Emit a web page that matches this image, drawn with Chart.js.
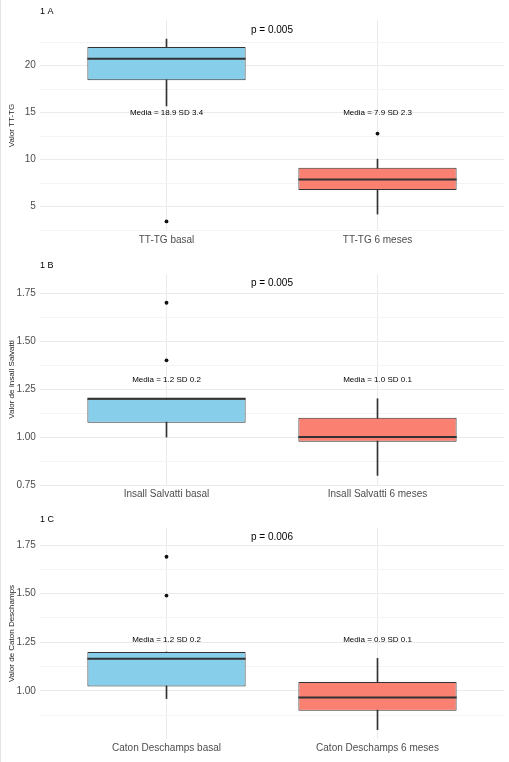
<!DOCTYPE html>
<html>
<head>
<meta charset="utf-8">
<script src="https://cdn.jsdelivr.net/npm/chart.js@4.4.1/dist/chart.umd.min.js"></script>
<style>
  html, body { margin: 0; padding: 0; background: #fff; }
  canvas { display: block; }
  #edge { position: fixed; left: 0; top: 0; width: 1px; height: 762px; background: #e4e4e4; }
</style>
</head>
<body>
<canvas id="chartA" width="509" height="254"></canvas>
<canvas id="chartB" width="509" height="254"></canvas>
<canvas id="chartC" width="509" height="254"></canvas>
<div id="edge"></div>
<script>
// 1 A - TT-TG
const groupsA = ["TT-TG basal", "TT-TG 6 meses"];
const q1A = [18.45, 6.77];
const medianA = [20.74, 7.9];
const q3A = [21.98, 9.14];
const whiskerLowA = [15.72, 4.22];
const whiskerHighA = [22.83, 10.06];
const outliersA = [[0, 3.44], [1, 12.78]];
const statsA = ["Media = 18.9 SD 3.4", "Media = 7.9 SD 2.3"];
const statsYA = 15;
const pValueA = "p = 0.005";
const pYA = 23.72;
const majorTicksA = [5, 10, 15, 20];
const minorTicksA = [2.5, 7.5, 12.5, 17.5, 22.5];

// 1 B - Insall Salvatti
const groupsB = ["Insall Salvatti basal", "Insall Salvatti 6 meses"];
const q1B = [1.075, 0.975];
const medianB = [1.2, 1.0];
const q3B = [1.2, 1.1];
const whiskerLowB = [1.0, 0.8];
const whiskerHighB = [1.2, 1.2];
const outliersB = [[0, 1.7], [0, 1.4]];
const statsB = ["Media = 1.2 SD 0.2", "Media = 1.0 SD 0.1"];
const statsYB = 1.3;
const pValueB = "p = 0.005";
const pYB = 1.8;
const majorTicksB = [0.75, 1.0, 1.25, 1.5, 1.75];
const minorTicksB = [0.875, 1.125, 1.375, 1.625];

// 1 C - Caton Deschamps
const groupsC = ["Caton Deschamps basal", "Caton Deschamps 6 meses"];
const q1C = [1.022, 0.897];
const medianC = [1.165, 0.965];
const q3C = [1.2, 1.046];
const whiskerLowC = [0.96, 0.8];
const whiskerHighC = [1.2, 1.167];
const outliersC = [[0, 1.69], [0, 1.49]];
const statsC = ["Media = 1.2 SD 0.2", "Media = 0.9 SD 0.1"];
const statsYC = 1.263;
const pValueC = "p = 0.006";
const pYC = 1.79;
const majorTicksC = [1.0, 1.25, 1.5, 1.75];
const minorTicksC = [0.875, 1.125, 1.375, 1.625];

const FONT = '"Liberation Sans", Arial, sans-serif';
const FILLS = ["#87CEEB", "#FA8072"];
const LINE = "#333333";
const BOX_WIDTH = 0.75;

Chart.defaults.font.family = FONT;

// texts placed in data coordinates
const notes = {
  id: "notes",
  afterDatasetsDraw(chart, args, opts) {
    const { ctx, chartArea } = chart;
    const x = chart.scales.x, y = chart.scales.y;
    ctx.save();
    ctx.fillStyle = "#000";
    ctx.textAlign = "center";
    ctx.textBaseline = "middle";
    ctx.font = "8px " + FONT;
    opts.stats.forEach((t, i) => ctx.fillText(t, x.getPixelForValue(i + 1), y.getPixelForValue(opts.statsY)));
    ctx.font = "10px " + FONT;
    ctx.fillText(opts.pValue, x.getPixelForValue((1 + opts.stats.length) / 2), y.getPixelForValue(opts.pY));
    ctx.textAlign = "left";
    ctx.font = "9px " + FONT;
    ctx.fillText(opts.tag, chartArea.left, 12);
    ctx.restore();
  }
};

function halfBox(chart) {
  const x = chart.scales.x;
  return x.getPixelForValue(1 + BOX_WIDTH / 2) - x.getPixelForValue(1);
}

function boxPanel(id, p) {
  const at = (arr) => p.groups.map((g, i) => ({ x: i + 1, y: arr[i] }));
  const span = (lo, hi) => p.groups.map((g, i) => ({ x: i + 1, y: [lo[i], hi[i]] }));
  const ticks = p.major.concat(p.minor).sort((a, b) => a - b);

  new Chart(document.getElementById(id), {
    type: "bar",
    data: {
      datasets: [
        {
          label: "whisker",
          data: span(p.lo, p.hi),
          backgroundColor: LINE,
          borderWidth: 0,
          barThickness: 1,
          grouped: false,
          order: 4
        },
        {
          label: "box",
          data: span(p.q1, p.q3),
          backgroundColor: FILLS,
          borderColor: LINE,
          borderWidth: 1,
          borderSkipped: false,
          categoryPercentage: 1,
          barPercentage: BOX_WIDTH,
          grouped: false,
          order: 3
        },
        {
          type: "scatter",
          label: "median",
          data: at(p.median),
          pointStyle: "line",
          pointRadius: (c) => halfBox(c.chart),
          pointBorderColor: LINE,
          pointBorderWidth: 2,
          order: 2
        },
        {
          type: "scatter",
          label: "outliers",
          data: p.outliers.map(o => ({ x: o[0] + 1, y: o[1] })),
          pointRadius: 1.9,
          pointBackgroundColor: "#111",
          pointBorderWidth: 0,
          order: 1
        }
      ]
    },
    options: {
      responsive: false,
      animation: false,
      events: [],
      layout: { padding: { left: 0, right: 4.9, top: 20, bottom: 0 } },
      plugins: {
        legend: { display: false },
        tooltip: { enabled: false },
        notes: { tag: p.tag, stats: p.stats, statsY: p.statsY, pValue: p.pValue, pY: p.pY }
      },
      scales: {
        x: {
          type: "linear",
          min: 0.4,
          max: 2.6,
          offset: false,
          afterBuildTicks: (s) => { s.ticks = p.groups.map((g, i) => ({ value: i + 1 })); },
          afterFit: (s) => { s.height = 23; },
          border: { display: false },
          grid: { offset: false, drawTicks: false, color: "#EBEBEB" },
          ticks: {
            padding: 3,
            color: "#4D4D4D",
            font: { size: 10 },
            maxRotation: 0,
            autoSkip: false,
            callback: (v) => p.groups[v - 1]
          }
        },
        y: {
          min: p.range[0],
          max: p.range[1],
          afterBuildTicks: (s) => { s.ticks = ticks.map(v => ({ value: v })); },
          afterFit: (s) => { s.width = 39.9; },
          border: { display: false },
          grid: {
            drawTicks: false,
            color: (c) => p.major.includes(c.tick.value) ? "#EBEBEB" : "#F4F4F4"
          },
          ticks: {
            padding: 4,
            color: "#4D4D4D",
            font: { size: 10 },
            autoSkip: false,
            callback: (v) => p.major.includes(v) ? p.fmt(v) : ""
          },
          title: {
            display: true,
            text: p.yTitle,
            color: "#1A1A1A",
            font: { size: 8 },
            padding: { top: 7, bottom: 0 }
          }
        }
      }
    },
    plugins: [notes]
  });
}

boxPanel("chartA", {
  tag: "1 A", yTitle: "Valor TT-TG", groups: groupsA,
  q1: q1A, median: medianA, q3: q3A, lo: whiskerLowA, hi: whiskerHighA, outliers: outliersA,
  stats: statsA, statsY: statsYA, pValue: pValueA, pY: pYA,
  range: [2.42, 24.86], major: majorTicksA, minor: minorTicksA, fmt: (v) => String(v)
});

boxPanel("chartB", {
  tag: "1 B", yTitle: "Valor de Insall Salvatti", groups: groupsB,
  q1: q1B, median: medianB, q3: q3B, lo: whiskerLowB, hi: whiskerHighB, outliers: outliersB,
  stats: statsB, statsY: statsYB, pValue: pValueB, pY: pYB,
  range: [0.75, 1.85], major: majorTicksB, minor: minorTicksB, fmt: (v) => v.toFixed(2)
});

boxPanel("chartC", {
  tag: "1 C", yTitle: "Valor de Caton Deschamps", groups: groupsC,
  q1: q1C, median: medianC, q3: q3C, lo: whiskerLowC, hi: whiskerHighC, outliers: outliersC,
  stats: statsC, statsY: statsYC, pValue: pValueC, pY: pYC,
  range: [0.752, 1.838], major: majorTicksC, minor: minorTicksC, fmt: (v) => v.toFixed(2)
});
</script>
</body>
</html>
